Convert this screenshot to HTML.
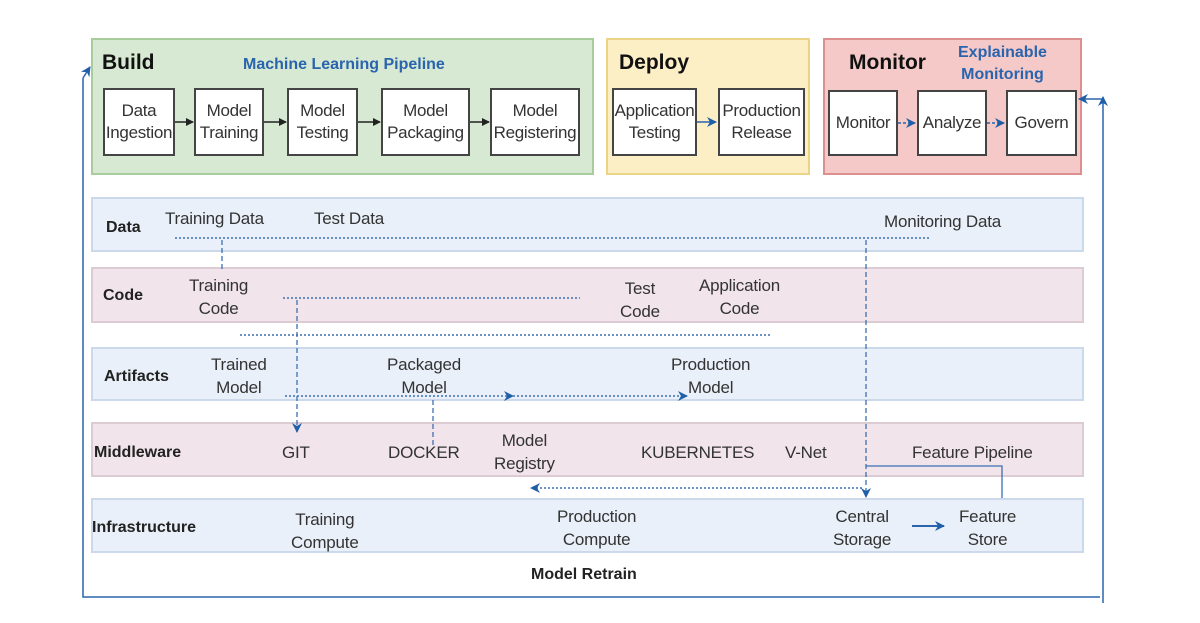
<!DOCTYPE html>
<html><head><style>
body{margin:0;width:1200px;height:623px;background:#fff;position:relative;overflow:hidden;font-family:"Liberation Sans",sans-serif;}
.a{position:absolute;box-sizing:border-box;}
.box{position:absolute;box-sizing:border-box;background:#fff;border:2px solid #444;display:flex;align-items:center;justify-content:center;text-align:center;font-size:17px;line-height:22px;color:#333;letter-spacing:-0.3px;}
.row{position:absolute;left:91px;width:993px;box-sizing:border-box;}
.blue{background:#e9f0f9;border:2px solid #cbd9ea;}
.pink{background:#f1e4ea;border:2px solid #dccbd3;}
.t{position:absolute;font-size:17px;color:#333;text-align:center;line-height:23px;white-space:nowrap;letter-spacing:-0.2px;}
.b{position:absolute;font-size:16px;font-weight:bold;color:#222;white-space:nowrap;}
.h{position:absolute;font-size:21px;font-weight:bold;color:#111;}
.bl{position:absolute;font-size:16px;font-weight:bold;color:#2a64ad;text-align:center;line-height:22px;}
</style></head><body>
<div class="a" style="left:91px;top:38px;width:503px;height:137px;background:#d7e8d3;border:2px solid #a9cc9c"></div>
<div class="a" style="left:606px;top:38px;width:204px;height:137px;background:#fcefc6;border:2px solid #ecd486"></div>
<div class="a" style="left:823px;top:38px;width:259px;height:137px;background:#f4c9c8;border:2px solid #dc8f8f"></div>
<div class="h" style="left:102px;top:51px">Build</div>
<div class="bl" style="left:243px;top:54px">Machine Learning Pipeline</div>
<div class="h" style="left:619px;top:51px">Deploy</div>
<div class="h" style="left:849px;top:51px">Monitor</div>
<div class="bl" style="left:958px;top:42px">Explainable<br>Monitoring</div>
<div class="box" style="left:103px;top:88px;width:72px;height:68px">Data<br>Ingestion</div>
<div class="box" style="left:194px;top:88px;width:70px;height:68px">Model<br>Training</div>
<div class="box" style="left:287px;top:88px;width:71px;height:68px">Model<br>Testing</div>
<div class="box" style="left:381px;top:88px;width:89px;height:68px">Model<br>Packaging</div>
<div class="box" style="left:490px;top:88px;width:90px;height:68px">Model<br>Registering</div>
<div class="box" style="left:612px;top:88px;width:85px;height:68px">Application<br>Testing</div>
<div class="box" style="left:718px;top:88px;width:87px;height:68px">Production<br>Release</div>
<div class="box" style="left:828px;top:90px;width:70px;height:66px">Monitor</div>
<div class="box" style="left:917px;top:90px;width:70px;height:66px">Analyze</div>
<div class="box" style="left:1006px;top:90px;width:71px;height:66px">Govern</div>

<div class="row blue" style="top:197px;height:55px"></div>
<div class="row pink" style="top:267px;height:56px"></div>
<div class="row blue" style="top:347px;height:54px"></div>
<div class="row pink" style="top:422px;height:55px"></div>
<div class="row blue" style="top:498px;height:55px"></div>

<div class="b" style="left:106px;top:219px">Data</div>
<div class="b" style="left:103px;top:287px">Code</div>
<div class="b" style="left:104px;top:368px">Artifacts</div>
<div class="b" style="left:94px;top:444px">Middleware</div>
<div class="b" style="left:92px;top:519px">Infrastructure</div>
<div class="b" style="left:531px;top:566px">Model Retrain</div>

<div class="t" style="left:165px;top:207px">Training Data</div>
<div class="t" style="left:314px;top:207px">Test Data</div>
<div class="t" style="left:884px;top:210px">Monitoring Data</div>
<div class="t" style="left:189px;top:274px">Training<br>Code</div>
<div class="t" style="left:620px;top:277px">Test<br>Code</div>
<div class="t" style="left:699px;top:274px">Application<br>Code</div>
<div class="t" style="left:211px;top:353px">Trained<br>Model</div>
<div class="t" style="left:387px;top:353px">Packaged<br>Model</div>
<div class="t" style="left:671px;top:353px">Production<br>Model</div>
<div class="t" style="left:282px;top:441px">GIT</div>
<div class="t" style="left:388px;top:441px">DOCKER</div>
<div class="t" style="left:494px;top:429px">Model<br>Registry</div>
<div class="t" style="left:641px;top:441px">KUBERNETES</div>
<div class="t" style="left:785px;top:441px">V-Net</div>
<div class="t" style="left:912px;top:441px">Feature Pipeline</div>
<div class="t" style="left:291px;top:508px">Training<br>Compute</div>
<div class="t" style="left:557px;top:505px">Production<br>Compute</div>
<div class="t" style="left:833px;top:505px">Central<br>Storage</div>
<div class="t" style="left:959px;top:505px">Feature<br>Store</div>

<svg class="a" style="left:0;top:0" width="1200" height="623">
<defs>
<marker id="k" markerWidth="8" markerHeight="8" refX="7" refY="4" orient="auto" markerUnits="userSpaceOnUse"><path d="M0,0L8,4L0,8z" fill="#222"/></marker>
<marker id="u" markerWidth="10" markerHeight="10" refX="9" refY="5" orient="auto" markerUnits="userSpaceOnUse"><path d="M0,0L10,5L0,10L3,5z" fill="#1f5fa8"/></marker>
</defs>
<g stroke="#222" stroke-width="1.5" marker-end="url(#k)">
<line x1="175" y1="122" x2="193" y2="122"/><line x1="264" y1="122" x2="286" y2="122"/>
<line x1="358" y1="122" x2="380" y2="122"/><line x1="470" y1="122" x2="489" y2="122"/>
</g>
<g stroke="#2a64ad" stroke-width="1.5" fill="none">
<line x1="697" y1="122" x2="716" y2="122" marker-end="url(#u)"/>
<line x1="898" y1="123" x2="915" y2="123" stroke-dasharray="3,2" marker-end="url(#u)"/>
<line x1="987" y1="123" x2="1004" y2="123" stroke-dasharray="3,2" marker-end="url(#u)"/>
<polyline points="1100,597 83,597 83,78"/>
<line x1="83" y1="78" x2="90" y2="67" marker-end="url(#u)"/>
<line x1="1103" y1="603" x2="1103" y2="97" marker-end="url(#u)"/>
<line x1="1103" y1="99" x2="1079" y2="99" marker-end="url(#u)"/>
</g>
<g stroke="#3c6fb3" stroke-width="1.5" fill="none" stroke-dasharray="2,2">
<line x1="175" y1="238" x2="930" y2="238"/>
<line x1="283" y1="298" x2="580" y2="298"/>
<line x1="240" y1="335" x2="770" y2="335"/>
<line x1="285" y1="396" x2="513" y2="396" marker-end="url(#u)"/>
<line x1="513" y1="396" x2="687" y2="396" marker-end="url(#u)"/>
<line x1="862" y1="488" x2="531" y2="488" marker-end="url(#u)"/>
</g>
<g stroke="#3c6fb3" stroke-width="1.3" fill="none" stroke-dasharray="5,3">
<line x1="222" y1="240" x2="222" y2="270"/>
<line x1="297" y1="300" x2="297" y2="432" marker-end="url(#u)"/>
<line x1="433" y1="400" x2="433" y2="445"/>
<line x1="866" y1="240" x2="866" y2="497" marker-end="url(#u)"/>
</g>
<polyline points="866,466 1002,466 1002,498" stroke="#3c6fb3" stroke-width="1.3" fill="none"/>
<line x1="912" y1="526" x2="944" y2="526" stroke="#2a64ad" stroke-width="2" marker-end="url(#u)"/>
</svg>
</body></html>
